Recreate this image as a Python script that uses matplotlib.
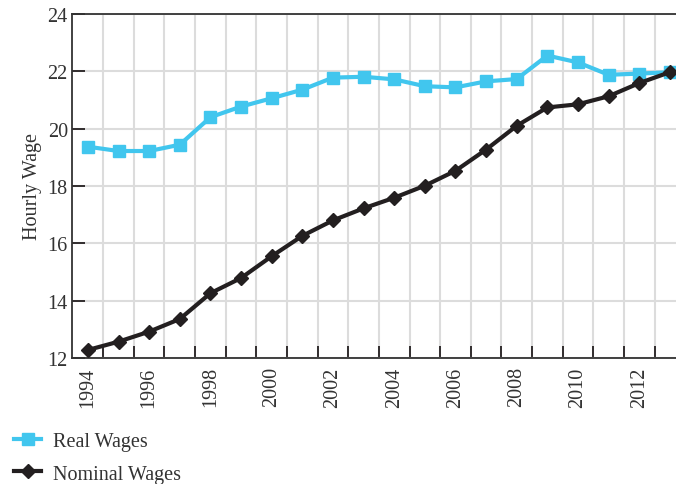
import matplotlib.pyplot as plt
import numpy as np

years = list(range(1994, 2014))
real_wages = [19.37, 19.22, 19.22, 19.44, 20.40, 20.77, 21.06, 21.36, 21.78, 21.81,
              21.72, 21.48, 21.44, 21.65, 21.73, 22.55, 22.31, 21.88, 21.92, 21.97]
nominal_wages = [12.28, 12.57, 12.92, 13.36, 14.26, 14.79, 15.55, 16.26, 16.80, 17.22,
                 17.59, 18.01, 18.53, 19.27, 20.10, 20.74, 20.85, 21.13, 21.59, 21.97]
y_ticks = [12, 14, 16, 18, 20, 22, 24]

plt.rcParams['font.family'] = ['Liberation Serif', 'DejaVu Serif']
text_col = '#333333'
dark = '#231F20'

fig = plt.figure(figsize=(6.76, 4.85), dpi=100)
ax = fig.add_axes([0.1065, 0.2598, 0.8935, 0.7093])

x = np.arange(len(years))
ax.plot(x, real_wages, color='#41C6EE', lw=3, marker='s', ms=8, label='Real Wages', zorder=3)
ax.plot(x, nominal_wages, color=dark, lw=3, marker='D', ms=7, label='Nominal Wages', zorder=4)

ax.set_xlim(-0.52, 19.2)
ax.set_ylim(12, 24)

# gridlines / ticks between years
ax.set_xticks(x[:-1] + 0.5)
ax.set_xticklabels([])
ax.set_xticks(x[::2], [str(y) for y in years[::2]], minor=True)
ax.tick_params(axis='x', which='major', direction='in', length=9, width=1.3, color=dark)
ax.tick_params(axis='x', which='minor', length=0, rotation=90, labelsize=14.5,
               labelcolor=text_col, pad=6)
ax.set_yticks(y_ticks)
ax.tick_params(axis='y', direction='in', length=9, width=1.3, color=dark,
               labelsize=14.5, labelcolor=text_col, pad=3)
ax.grid(True, which='major', color='#dcdcdc', lw=1.5, zorder=0)
ax.set_axisbelow(True)

for s in ['left', 'bottom', 'top']:
    ax.spines[s].set_color('#333333')
    ax.spines[s].set_linewidth(1.3)
ax.spines['right'].set_visible(False)

ax.set_ylabel('Hourly Wage', fontsize=14.5, color=text_col, labelpad=4)

fig.legend(loc='upper left', bbox_to_anchor=(0.0, 0.137), frameon=False, fontsize=14.5,
           handlelength=1.35, handletextpad=0.6, labelspacing=0.68, borderaxespad=0.3,
           labelcolor=text_col)

fig.savefig('out.png', dpi=100)
